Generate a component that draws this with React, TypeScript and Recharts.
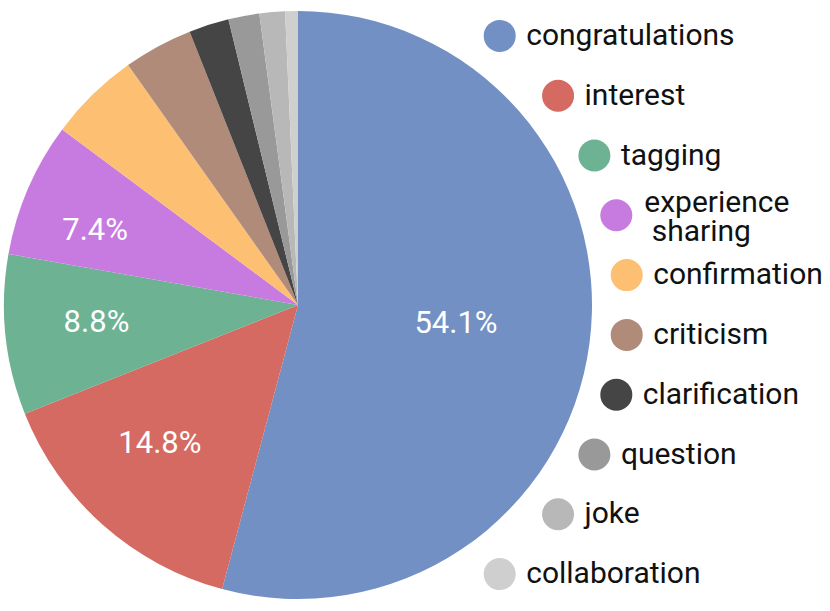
import React from "react";
import { PieChart, Pie, Cell } from "recharts";

const categories = [
  "congratulations",
  "interest",
  "tagging",
  "experience sharing",
  "confirmation",
  "criticism",
  "clarification",
  "question",
  "joke",
  "collaboration",
];

const shares = [54.1, 14.8, 8.8, 7.4, 5.0, 3.8, 2.2, 1.7, 1.4, 0.7];

const colors = [
  "#7290C4",
  "#D46A62",
  "#6DB293",
  "#C77BE0",
  "#FDBF72",
  "#B08B79",
  "#454545",
  "#999999",
  "#B8B8B8",
  "#CFCFCF",
];

const data = categories.map((name, i) => ({ name, value: shares[i] }));

const W = 830;
const H = 611;
const CX = 298;
const CY = 305;
const R = 294;
const FONT = "Roboto, 'Noto Sans', sans-serif";

// where the percentage labels sit inside their slice: share of the radius,
// and a small turn (degrees) away from the slice's middle
const labelRadius = [0.541, 0.664, 0.688, 0.736];
const labelTurn = [0.9, -3.4, -0.9, 3.0];

const RADIAN = Math.PI / 180;

function renderLabel(props: any) {
  const { cx, cy, midAngle, outerRadius, percent, index, value } = props;
  if (percent < 0.06) return null;
  const r = outerRadius * (labelRadius[index] ?? 0.6);
  const a = (midAngle + (labelTurn[index] ?? 0)) * RADIAN;
  const x = cx + r * Math.cos(-a);
  const y = cy + r * Math.sin(-a);
  return (
    <text
      x={x}
      y={y + 10}
      fill="#FFFFFF"
      textAnchor="middle"
      fontSize={31}
      fontFamily={FONT}
    >
      {`${Number(value).toFixed(1)}%`}
    </text>
  );
}

function ArcLegend() {
  const step = 59.8;
  const first = CY - step * ((categories.length - 1) / 2);
  return (
    <svg
      width={W}
      height={H}
      style={{ position: "absolute", left: 0, top: 0, pointerEvents: "none" }}
    >
      {categories.map((name, i) => {
        const y = first + i * step;
        const dy = (y - CY) / 340;
        const x = CX + 330 * Math.sqrt(Math.max(0, 1 - dy * dy));
        const multi = name === "experience sharing";
        return (
          <g key={name}>
            <circle cx={x} cy={y} r={16} fill={colors[i]} />
            {multi ? (
              <text
                fontSize={30}
                fontFamily={FONT}
                fill="#111"
                style={{ whiteSpace: "pre" }}
              >
                <tspan x={x + 28} y={y - 3}>
                  experience
                </tspan>
                <tspan x={x + 28} y={y + 25.5}>
                  {" sharing"}
                </tspan>
              </text>
            ) : (
              <text x={x + 26.5} y={y + 9} fontSize={30} fontFamily={FONT} fill="#111">
                {name}
              </text>
            )}
          </g>
        );
      })}
    </svg>
  );
}

export default function App() {
  return (
    <div
      style={{
        position: "absolute",
        left: 0,
        top: 0,
        width: W,
        height: H,
        background: "#FFFFFF",
      }}
    >
      <PieChart width={W} height={H} margin={{ top: 0, right: 0, bottom: 0, left: 0 }}>
        <Pie
          data={data}
          dataKey="value"
          nameKey="name"
          cx={CX}
          cy={CY}
          outerRadius={R}
          startAngle={90}
          endAngle={-270}
          stroke="none"
          label={renderLabel}
          labelLine={false}
          isAnimationActive={false}
        >
          {data.map((d, i) => (
            <Cell key={d.name} fill={colors[i]} />
          ))}
        </Pie>
      </PieChart>
      <ArcLegend />
    </div>
  );
}
